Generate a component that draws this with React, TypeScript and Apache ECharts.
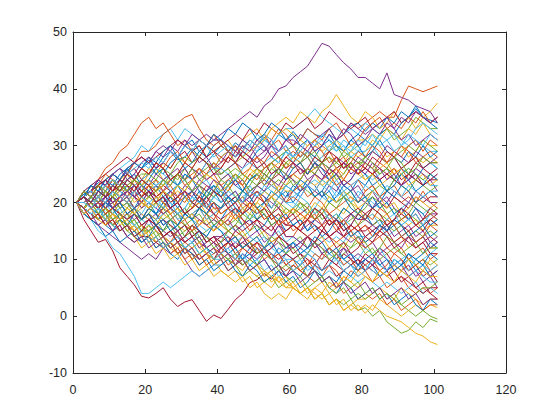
import React, { useEffect, useRef } from "react";
import * as echarts from "echarts";

// Step positions at which each path value was read (every second step)
const xs = [1, 3, 5, 7, 9, 11, 13, 15, 17, 19, 21, 23, 25, 27, 29, 31, 33, 35, 37, 39, 41, 43, 45, 47, 49, 51, 53, 55, 57, 59, 61, 63, 65, 67, 69, 71, 73, 75, 77, 79, 81, 83, 85, 87, 89, 91, 93, 95, 97, 99, 101];

const xTicks = [0, 20, 40, 60, 80, 100, 120];
const yTicks = [-10, 0, 10, 20, 30, 40, 50];

const blueWalks = [
  [20,21.5,22,23.5,23,25,24,25.5,27,26, 27.5,26,28,29,27.5,28,29.5,28,27,28.5, 30,29,30.5,29.5,31,30,31.5,30,32,31, 32.5,31,33,32,31.5,33,31,32,33.5,34, 32.5,34,33,35,34,36,35,36.5,35,34.5, 34],
  [20,19,18,19,17,16,17,15,16,14, 15,16,14,13,14,12,13,14,12,11, 12,13,11,10,12,11,12,10,9,11, 10,9,11,10,8,9,11,10,9,8, 10,9,7,8,10,9,10,8,9,7, 8],
  [20,22,21,19,20,22,21,23,21,22, 24,23,21,22,23,21,20,22,19,21, 22,20,21,19,20,22,21,19,21,22, 20,22,23,21,22,24,23,21,22,24, 23,25,24,22,24,26,25,24,26,27, 26],
  [20,18,19,17,19,20,18,17,19,21, 20,18,19,21,20,18,17,19,18,16, 17,19,18,16,17,15,16,18,17,15, 16,17,15,17,18,16,17,19,18,17, 18,16,17,15,16,14,15,13,14,12, 13],
  [20,22,21,20,22,23,22,24,25,23, 24,26,25,27,28,26,27,29,28,30, 31,29,30,28,27,29,30,28,27,29, 28,30,29,28,30,31,30,29,31,32, 31,30,32,33,32,34,35,37,35,34, 33],
  [20,19,21,20,19,21,20,18,19,17, 19,18,16,17,15,16,14,15,13,14, 13,11,12,10,11,9,10,8,9,7, 8,7,9,8,6,7,6,8,7,9, 8,10,9,8,10,9,11,10,11,13, 12],
  [20,21,23,22,21,23,24,22,23,21, 22,20,21,19,21,22,20,19,21,23, 22,24,23,22,24,25,23,24,22,21, 23,22,24,23,21,22,20,21,19,18, 20,21,19,20,18,19,17,19,18,16, 17],
  [20,18,17,18,16,15,17,16,14,13, 14,12,13,11,10,12,11,9,10,8, 9,10,8,7,9,8,6,7,8,6, 7,5,6,8,7,5,4,6,5,3, 4,5,3,4,2,3,4,2,1,3, 2],
  [20,21,23,22,24,23,25,26,24,26, 28,27,29,30,28,30,31,29,30,32, 31,33,32,34,33,31,32,34,33,31, 32,30,31,29,30,32,30,29,31,30, 28,29,31,29,28,27,29,28,30,28, 29],
  [20,21,19,18,20,19,17,16,18,17, 19,18,20,21,19,21,22,20,22,23, 21,23,24,22,24,25,23,25,26,24, 26,27,25,27,26,24,25,23,24,26, 25,23,24,22,23,25,24,22,23,25, 24],
  [20,21,23,22,24,25,24,26,27,26, 27,25,26,24,23,25,24,22,21,22, 20,21,19,18,19,17,18,16,17,18, 16,17,15,16,14,15,17,16,14,15, 13,14,16,15,17,16,14,15,16,14, 15],
  [20,18,17,16,14,15,13,14,15,13, 14,16,15,17,16,18,17,19,18,20, 19,21,20,22,21,19,20,22,21,23, 22,24,23,21,22,20,21,23,22,20, 21,19,20,22,21,23,22,20,21,22, 21],
  [20,21,20,22,21,19,20,18,19,17, 18,16,17,15,16,18,17,15,14,16, 15,13,14,12,13,14,12,13,11,12, 13,11,12,14,13,11,12,10,11,9, 10,11,9,10,8,9,11,10,9,11, 10],
];
const orangeWalks = [
  [20,21,23,24,26,27,29,30,32,34, 35,33,34,32,30,31,29,30,28,29, 27,28,30,29,31,30,32,31,33,32, 30,31,33,32,31,33,34,32,34,33, 34,35,36,35,35,38,40.5,40,39.5,40, 40.5],
  [20,19,18,19,17,16,18,16,15,14, 15,16,14,13,15,13,12,13,11,12, 11,13,12,14,13,11,12,10,9,10, 8,9,10,8,7,9,8,6,8,7, 8,6,7,5,6,7,5,4,5,4, 5],
  [20,22,21,23,22,24,23,25,27,26, 25,27,26,28,29,27,29,31,30,32, 30,29,28,30,29,31,32,30,31,29, 30,28,29,27,28,29,27,28,26,27, 26,25,27,26,25,26,24,25,23,24, 25],
  [20,18,19,21,20,19,21,20,19,17, 18,17,19,18,16,17,15,16,18,17, 19,20,18,20,21,22,20,21,22,20, 21,20,19,21,20,18,19,20,21,20, 22,23,21,22,21,20,21,20,22,20, 19],
  [20,21,22,23,24,25,24,26,27,29, 29,30,32,33,34,35,35.5,33,31,30, 31,29,30,28,27,28,26,27,28,27, 26,27,25,26,27,25,26,24,23,24, 22,23,21,22,23,21,22,20,21,22, 21],
  [20,19,18,17,18,16,15,16,14,13, 14,12,13,11,12,10,11,9,10,11, 12,13,11,12,13,12,10,11,9,8, 9,8,7,6,7,5,6,4,5,3, 4,3,4,2,3,1,2,3,1,2, 2],
  [20,21,20,19,21,22,23,21,22,24, 23,24,22,23,25,24,25,26,24,25, 23,24,25,23,25,24,26,27,26,28, 29,28,30,31,30,29,31,32,30,31, 33,34,35,33,34,33,35,34,36,34, 35],
  [20,19,20,21,19,18,17,18,19,17, 19,20,18,19,17,16,15,17,16,15, 17,16,18,17,15,17,18,16,17,14, 14,16,17,15,16,14,13,14,15,13, 12,13,14,12,11,12,10,11,12,10, 11],
  [20,21,19,20,22,21,23,22,24,22, 23,21,22,20,21,20,22,21,23,22, 21,22,24,23,21,22,20,19,21,20, 22,23,21,22,24,25,23,24,26,25, 27,26,28,27,29,28,30,31,29,31, 30],
  [20,21,22,21,23,22,21,20,22,20, 19,21,20,18,19,17,18,19,17,18, 16,17,19,18,20,19,17,18,16,17, 19,18,17,18,16,17,15,16,14,15, 16,14,15,17,16,14,15,13,14,16, 15],
  [20,22,21,23,25,24,23,25,24,26, 25,27,26,24,25,23,24,26,25,27, 26,28,27,25,26,28,27,29,28,26, 27,29,28,30,29,27,28,26,27,29, 28,30,29,27,28,30,29,27,28,29, 28],
  [20,19,17,18,16,17,15,16,14,15, 13,14,12,13,11,12,10,11,9,10, 11,9,10,12,11,13,12,10,11,9, 10,8,9,11,10,12,11,9,10,8, 9,10,8,9,11,10,8,9,10,8, 9],
  [20,21,19,20,18,19,21,20,22,21, 23,22,24,23,21,22,20,21,19,20, 18,19,17,18,20,19,17,18,16,17, 15,16,18,17,19,18,16,17,15,16, 18,17,19,18,16,17,18,16,17,18, 17],
];
const yellowWalks = [
  [20,21,22,21,23,22,24,25,23,24, 26,25,27,26,28,27,29,28,30,29, 30,31,29,31,32,33,31,33,34,35, 34,36,35,34,36,37,39,37,35,34, 36,35,33,34,36,34,35,33,35,36, 37.5],
  [20,19,18,19,17,16,17,15,16,14, 15,13,14,12,13,11,12,10,11,9, 10,8,9,10,8,7,8,6,7,5, 6,4,5,4,3,4,2,3,1,2, 0.5,2,1,0,-0.5,-1,-2,-3,-3.5,-4.5, -5],
  [20,20,21,22,21,19,20,19,18,19, 21,20,19,21,22,21,19,20,22,21, 22,20,21,19,20,18,19,17,18,17, 19,18,17,19,18,20,19,18,20,19, 17,18,17,18,16,17,16,17,15,16, 16],
  [20,18,19,17,18,16,17,15,16,14, 15,13,14,12,11,12,10,11,9,10, 8,7,8,6,7,5,6,5,7,6, 5,4,5,3,4,2,3,1,2,1, 2,1,3,2,1,0,1,2,1,2, 1.5],
  [20,22,23,21,22,23,21,22,24,23, 25,26,24,25,23,24,22,23,25,24, 23,22,24,23,25,26,24,26,27,26, 28,27,25,26,27,28,26,27,29,28, 29,31,30,28,29,30,28,29,31,30, 30],
  [20,19,20,18,19,20,18,17,19,18, 17,16,18,17,16,15,16,17,16,15, 16,15,14,15,13,14,15,13,14,15, 16,15,14,13,14,12,13,12,14,13, 13,14,15,14,13,14,12,13,14,12, 12],
  [20,21,22,23,22,21,22,23,22,21, 23,22,20,21,20,21,19,20,18,19, 18,19,20,21,19,20,22,21,23,22, 22,23,24,23,24,23,25,24,26,25, 24,25,26,27,25,26,27,28,27,28, 27],
  [20,18,17,18,19,17,18,16,15,14, 16,15,14,13,12,13,14,12,11,10, 11,10,9,8,10,9,8,7,6,5, 5,4,5,3,4,2,3,1,2,3, 3,4,5,4,3,5,4,3,2,3, 3],
  [20,21,22,21,23,24,22,23,24,23, 24,22,23,24,25,27,26,28,27,26, 28,29,27,28,29,30,31,33,32,33, 32,31,30,31,29,30,31,29,30,31, 31,32,31,33,32,31,33,32,34,32, 31],
  [20,19,18,19,17,16,15,16,14,12, 13,11,12,10,11,9,10,8,9,7, 8,7,6,7,5,6,4,3,4,3, 5,4,3,5,6,4,5,7,6,8, 7,6,8,7,9,8,10,9,8,10, 9],
  [20,22,21,20,22,21,23,22,20,21, 19,20,22,21,23,22,24,23,25,24, 22,23,25,24,26,25,23,24,22,23, 25,24,26,25,23,24,26,25,27,26, 24,25,23,24,26,25,23,24,25,23, 24],
  [20,19,20,18,17,18,16,17,15,16, 14,13,14,12,13,11,12,13,11,12, 10,11,9,10,8,9,7,8,6,7, 5,6,4,5,4,6,5,7,6,5, 7,6,8,7,6,8,7,6,8,7, 7],
  [20,18,19,17,16,18,17,19,18,20, 19,21,20,18,19,17,18,16,17,15, 16,18,17,19,18,20,19,21,20,18, 19,17,18,20,19,21,20,22,21,19, 20,22,21,19,20,18,19,21,20,19, 20],
];
const purpleWalks = [
  [20,21,22,24,23,25,26,25,27,28, 27,29,28,30,29,31,30,31,32,31, 32,33,34,35,36,35,37,38,40,40.5, 42,43,44,46,48,47.5,46,44.6,43.5,42, 42,41,40,42.8,39,38.5,38,37,36.5,36, 34],
  [20,18,17,16,15,14,13,12,11,10, 11,10,12,11,12,10,8,7,8,9, 10,8,9,11,10,12,11,10,12,11, 13,12,11,13,12,11,10,12,11,9, 10,9,11,10,8,9,7,8,6,7, 5],
  [20,21,20,22,21,22,24,23,21,22, 21,23,22,24,25,26,24,25,27,26, 28,29,27,29,28,30,29,31,29,30, 28,27,28,26,27,28,26,27,25,26, 27,26,24,25,24,23,24,25,23,24, 22],
  [20,19,21,20,19,21,20,18,17,18, 17,18,16,17,18,19,17,19,18,20, 18,19,20,21,20,22,21,20,19,21, 22,21,23,22,21,23,22,24,23,21, 20,19,21,20,22,21,20,22,21,20, 20],
  [20,22,23,24,23,25,24,26,27,28, 27,29,30,29,31,30,32,31,30,31, 31,30,29,31,30,28,29,30,28,26, 27,26,25,27,25,24,25,23,22,23, 21,22,20,21,19,18,20,19,17,18, 18],
  [20,18,19,17,18,16,17,16,15,16, 17,15,14,15,13,12,13,14,12,13, 11,12,13,12,11,10,11,12,13,12, 12,13,14,13,15,14,15,14,13,14, 12,13,11,12,13,12,14,13,14,12, 13],
  [20,21,20,19,21,20,21,22,23,24, 23,25,24,25,26,24,26,25,24,25, 25,26,27,26,28,27,28,30,29,31, 31,30,29,31,32,33,31,32,34,33, 32,33,34,35,33,35,34,36,35,34, 35],
  [20,19,18,19,20,19,18,17,18,16, 17,16,15,14,15,13,14,12,13,14, 14,13,12,13,14,15,13,14,16,15, 16,15,16,17,16,18,17,16,18,17, 17,16,15,16,14,15,16,14,15,13, 14],
  [20,20,21,20,19,20,21,22,21,19, 20,19,18,19,18,17,18,17,16,17, 16,17,15,16,17,16,15,14,16,14, 14,13,12,13,11,12,11,12,10,11, 10,9,10,8,9,8,9,7,8,7, 8],
  [20,21,22,20,21,19,20,21,19,20, 22,21,20,22,21,23,22,24,23,22, 24,25,23,24,22,23,25,24,26,25, 27,26,24,25,27,26,28,27,26,28, 27,29,28,30,29,28,27,29,28,27, 28],
  [20,21,22,24,23,25,26,24,25,27, 28,26,27,29,28,30,29,27,28,26, 27,29,28,30,29,31,30,28,29,31, 30,32,31,29,30,32,31,33,32,30, 31,33,32,34,33,31,32,30,31,32, 31],
  [20,19,18,16,17,15,16,14,13,14, 12,13,14,12,13,11,12,10,11,12, 10,11,9,10,8,9,10,8,9,7, 8,6,7,8,6,7,5,6,4,5, 6,4,5,3,4,5,3,4,2,3, 3],
  [20,21,19,20,21,19,20,22,21,23, 22,20,21,19,20,22,21,23,22,24, 23,21,22,20,21,23,22,24,23,25, 24,22,23,25,24,26,25,23,24,26, 25,27,26,24,25,23,24,26,25,24, 25],
];
const greenWalks = [
  [20,19,18,19,17,18,17,16,15,16, 14,15,13,12,13,11,12,10,11,9, 10,8,9,7,8,7,6,7,5,6, 5,4,5,3,4,2,3,2,3,1, 1.5,0,1,-1,-2,-3,-2.5,-1,-2,-0.5, -1],
  [20,21,22,21,20,21,23,22,24,23, 22,24,23,25,24,26,24,25,26,27, 25,26,27,25,24,25,26,27,25,27, 28,27,29,28,27,29,30,28,29,30, 31,30,32,33,31,32,33,35,34,33, 33],
  [20,19,20,18,19,18,20,21,19,20, 19,18,17,18,19,18,20,19,21,20, 19,21,20,22,21,19,20,21,19,18, 19,20,18,19,17,18,17,19,18,16, 17,19,18,17,16,17,18,17,16,17, 16],
  [20,21,22,23,21,22,20,21,19,20, 19,20,21,19,18,19,17,18,16,17, 16,15,16,14,15,16,14,13,14,12, 13,14,12,13,11,12,10,11,12,13, 11,12,10,11,12,11,10,9,10,9, 10],
  [20,18,17,18,17,19,18,19,21,20, 21,20,22,21,23,22,24,23,22,21, 22,23,21,22,23,25,24,26,25,27, 26,27,28,26,27,28,27,29,28,27, 28,29,28,27,28,29,30,29,31,30, 29],
  [20,21,20,21,19,18,17,18,16,17, 18,17,15,16,14,15,16,14,15,16, 17,16,17,16,18,17,19,18,20,19, 18,19,20,18,19,17,18,16,17,18, 17,16,17,16,15,16,14,15,14,15, 14],
  [20,19,20,21,22,21,23,24,23,24, 23,22,23,24,25,24,26,24,25,26, 24,25,26,25,24,23,22,23,24,23, 24,23,22,21,22,21,20,21,22,20, 21,22,23,22,24,23,22,24,23,22, 23],
  [20,19,20,19,18,19,17,16,17,15, 15,16,14,15,13,12,13,11,12,10, 11,10,11,9,10,9,11,10,8,9, 8,9,7,8,6,7,5,6,5,6, 4,5,3,4,3,2,1,0,1,0, -0.5],
  [20,21,22,21,23,24,22,23,24,25, 25,24,26,25,27,28,27,28,27,26, 25,26,24,25,24,26,25,27,28,29, 30,29,28,29,27,26,27,26,28,27, 27,26,25,26,24,25,26,25,24,25, 24],
  [20,19,18,17,18,16,17,15,14,15, 13,14,12,13,11,12,10,11,12,10, 11,10,9,10,8,9,7,8,9,7, 6,7,5,6,7,5,4,5,3,4, 3,4,5,3,4,2,3,4,5,5, 6],
  [20,19,21,20,22,21,19,20,18,17, 18,20,19,17,18,16,17,19,18,16, 17,15,16,18,17,19,18,16,17,19, 18,20,19,17,18,20,19,21,20,18, 19,21,20,18,19,17,18,20,19,18, 19],
  [20,21,20,18,19,17,18,16,17,15, 16,14,15,17,16,14,15,13,14,12, 13,15,14,12,13,11,12,14,13,11, 12,10,11,13,12,10,11,13,12,14, 13,11,12,14,13,11,12,13,11,12, 12],
  [20,22,21,23,22,21,23,22,24,23, 21,22,24,23,25,24,22,23,21,22, 24,23,25,24,22,23,25,24,26,25, 23,24,26,25,27,26,24,25,27,26, 28,27,25,26,28,27,25,26,28,27, 27],
];
const cyanWalks = [
  [20,21,22,23,24,25,26,27,28,30, 29,31,32,33,31,33,32,31,30,31, 31,30,29,31,30,32,31,30,32,33, 33,34,35,36.5,35,34,33,32,33,32, 34,33,32,33,32,31,30,31,30,29, 29],
  [20,19,18,17,18,16,15,16,15,14, 14,13,12,13,11,12,13,11,12,10, 10,11,12,10,9,10,8,9,7,8, 9,10,8,9,7,8,7,6,7,6, 7,6,5,6,5,4,5,6,4,5, 4],
  [20,21,22,20,21,22,21,20,19,20, 19,18,20,19,18,19,21,20,22,21, 22,21,20,21,22,23,22,21,22,20, 20,19,18,19,21,20,22,21,20,22, 21,20,19,20,18,19,20,19,18,19, 20],
  [20,18,17,15,14,12,11,9,7,4, 4,5,6,5,6,7,8,7,8,9, 9,10,11,10,11,12,11,10,12,11, 13,12,11,13,14,13,14,13,15,14, 14,15,16,14,15,16,17,16,17,16, 17],
  [20,22,21,22,23,21,22,23,24,23, 22,23,24,25,23,24,26,25,27,26, 28,29,27,28,30,29,31,30,28,29, 27,28,29,27,28,30,29,31,30,29, 29,30,28,27,28,26,27,28,26,27, 26],
  [20,19,18,19,20,18,19,17,16,15, 15,16,14,15,16,14,13,15,14,16, 17,16,15,16,14,13,12,14,15,13, 14,13,12,13,11,12,11,10,11,10, 12,11,12,10,9,10,11,9,10,11, 12],
  [20,21,20,22,21,23,22,24,23,24, 25,26,25,24,23,24,22,23,24,22, 22,21,22,20,23,21,22,23,22,21, 21,22,23,24,23,22,24,22,23,24, 25,24,25,26,24,25,26,25,24,23, 23],
  [20,18,17,19,18,17,18,17,16,17, 16,17,18,19,17,18,17,16,15,16, 15,14,13,14,12,13,14,12,11,10, 10,11,12,11,10,11,10,9,10,8, 9,8,7,8,9,8,7,8,7,6, 6],
  [20,21,20,21,22,23,22,21,22,23, 22,23,24,22,23,25,24,23,25,26, 26,25,24,26,27,26,27,28,27,29, 28,29,28,30,31,29,31,30,29,31, 30,32,30,31,32,30,31,33,34,33, 32],
  [20,19,18,19,17,18,19,20,19,18, 20,21,19,20,18,17,18,19,17,18, 19,20,18,19,17,18,20,19,21,20, 19,21,20,18,19,17,18,17,16,18, 17,18,16,17,18,16,17,18,16,18, 17],
  [20,21,22,21,23,24,23,25,26,27, 26,28,27,29,28,30,29,31,30,28, 29,30,28,29,31,30,32,31,29,30, 28,29,31,30,32,31,29,30,28,29, 31,30,32,31,29,30,32,31,30,32, 31],
  [20,19,18,19,17,16,15,16,14,15, 13,14,12,13,14,12,13,11,12,10, 11,12,10,11,9,10,12,11,9,10, 8,9,11,10,8,9,10,8,9,7, 8,10,9,8,10,9,8,10,9,8, 9],
  [20,20,19,21,20,22,21,20,22,21, 20,19,21,20,18,19,21,20,19,21, 20,22,21,20,22,21,23,22,21,23, 22,21,23,22,24,23,21,22,20,21, 23,22,21,23,22,21,23,22,21,22, 22],
];
const redWalks = [
  [20,17,15,13,13.5,11.5,8.5,7,5.5,3.5, 3.2,4,5,3,1.7,2.5,2.9,1,-0.9,0.2, -0.4,1.2,2.9,4,5.9,6.4,7.5,6.5,8,7, 9,8,7,9,8,10,9,11,10,9, 11,10,12,11,9,10,8,9,7,8, 6],
  [20,21,22,23,22,24,23,25,26,24, 25,26,27,26,28,29,27,28,30,29, 30,31,32,31,33,32,34,33,32,34, 33,34,35,33,34,36,35,34,33,34, 35,33,34,35,36,34,35,36,35,34, 35],
  [20,19,20,19,18,17,18,16,15,16, 15,16,14,15,13,14,15,13,12,13, 12,13,14,12,13,11,12,10,11,9, 10,11,9,10,8,9,7,8,9,10, 9,8,7,8,6,7,6,5,4,5, 5],
  [20,21,20,19,20,21,22,21,23,22, 21,22,23,22,20,21,22,20,21,19, 19,20,21,20,22,23,24,23,22,24, 25,24,26,25,24,26,25,27,26,25, 26,25,24,25,26,24,25,27,26,25, 26],
  [20,18,17,16,17,15,16,14,13,14, 14,13,12,13,11,12,11,10,11,10, 12,11,10,9,10,11,12,13,14,13, 12,13,14,12,13,14,15,14,16,15, 15,16,17,16,17,18,17,18,16,17, 18],
  [20,21,22,21,22,20,21,22,21,20, 22,21,20,19,20,18,19,20,19,18, 19,20,21,20,19,18,19,17,18,16, 17,18,19,17,18,16,17,15,16,15, 16,15,14,15,13,14,13,12,13,11, 11],
  [20,21,22,24,25,26,27,28,27,28, 27,28,29,30,31,30,29,30,28,29, 28,27,29,28,27,26,25,24,25,24, 25,26,25,27,26,25,26,27,28,27, 26,25,26,25,24,23,25,24,23,24, 24],
  [20,19,18,17,18,19,18,17,18,16, 17,16,14,15,14,13,14,15,14,13, 14,15,16,15,16,17,16,15,17,16, 16,15,14,15,16,14,15,17,18,19, 18,19,20,19,21,20,19,21,20,21, 21],
  [20,21,20,19,20,21,19,20,18,17, 18,16,17,16,15,16,14,15,13,14, 13,14,12,13,12,11,12,11,10,11, 10,11,10,9,11,10,9,8,9,10, 8,9,8,7,8,6,7,5,6,4, 3],
  [20,21,22,23,21,22,24,23,22,24, 23,21,22,20,21,22,20,19,20,18, 17,18,19,17,16,17,15,16,14,15, 16,15,17,16,15,17,16,14,15,16, 14,15,16,15,17,16,15,16,15,17, 16],
  [20,22,21,23,24,22,23,25,24,26, 25,27,26,24,25,27,26,28,27,25, 26,28,27,29,28,26,27,25,26,28, 27,25,26,28,27,29,28,26,27,25, 26,28,27,29,28,26,27,28,26,27, 27],
  [20,19,17,18,16,17,15,16,14,15, 17,16,14,15,13,14,16,15,13,14, 12,13,15,14,12,13,11,12,14,13, 11,12,14,13,15,14,12,13,11,12, 14,13,15,14,12,13,14,12,13,14, 13],
  [20,21,20,22,21,23,22,24,23,21, 22,20,21,19,20,18,19,21,20,22, 21,19,20,18,19,21,20,18,19,17, 18,16,17,19,18,16,17,15,16,18, 17,19,18,16,17,19,18,16,17,19, 18],
];

const groups = [
  { color: "#0072BD", walks: blueWalks },
  { color: "#D95319", walks: orangeWalks },
  { color: "#EDB120", walks: yellowWalks },
  { color: "#7E2F8E", walks: purpleWalks },
  { color: "#77AC30", walks: greenWalks },
  { color: "#4DBEEE", walks: cyanWalks },
  { color: "#A2142F", walks: redWalks },
];

const AXIS = "#262626";

export default function App() {
  const ref = useRef<HTMLDivElement>(null);
  useEffect(() => {
    if (!ref.current) return;
    const chart = echarts.init(ref.current, undefined, { renderer: "svg" });
    const series: any[] = [];
    const n = blueWalks.length;
    for (let i = 0; i < n; i++) {
      for (const g of groups) {
        const w = g.walks[i];
        series.push({
          type: "line",
          data: w.map((v, k) => [xs[k], v]),
          showSymbol: false,
          symbol: "none",
          silent: true,
          lineStyle: { color: g.color, width: 1 },
          itemStyle: { color: g.color },
        });
      }
    }
    const labelStyle = {
      color: AXIS,
      fontFamily: "Liberation Sans, Arial, sans-serif",
      fontSize: 12.5,
    };
    const common = {
      axisLine: { show: true, onZero: false, lineStyle: { color: AXIS, width: 1 } },
      axisTick: { show: true, inside: true, length: 4, lineStyle: { color: AXIS } },
      splitLine: { show: false },
    };
    chart.setOption({
      animation: false,
      backgroundColor: "#ffffff",
      grid: { left: 73, right: 54, top: 32, bottom: 47, containLabel: false },
      xAxis: [
        {
          type: "value", min: xTicks[0], max: xTicks[xTicks.length - 1], interval: 20,
          position: "bottom", ...common,
          axisLabel: { ...labelStyle, margin: 10 },
        },
        {
          type: "value", min: xTicks[0], max: xTicks[xTicks.length - 1], interval: 20,
          position: "top", ...common, axisLabel: { show: false },
        },
      ],
      yAxis: [
        {
          type: "value", min: yTicks[0], max: yTicks[yTicks.length - 1], interval: 10,
          position: "left", ...common,
          axisLabel: { ...labelStyle, margin: 6 },
        },
        {
          type: "value", min: yTicks[0], max: yTicks[yTicks.length - 1], interval: 10,
          position: "right", ...common, axisLabel: { show: false },
        },
      ],
      series,
    });
    return () => chart.dispose();
  }, []);
  return (
    <div
      ref={ref}
      style={{ position: "absolute", left: 0, top: 0, width: 560, height: 420 }}
    />
  );
}
